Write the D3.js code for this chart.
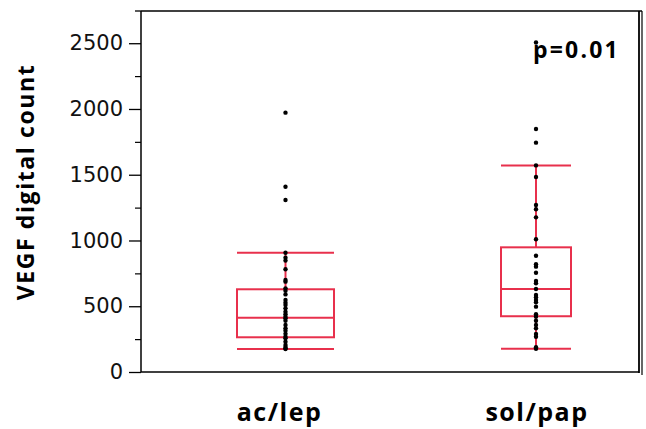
<!DOCTYPE html>
<html>
<head>
<meta charset="utf-8">
<script src="https://cdn.jsdelivr.net/npm/d3@7/dist/d3.min.js"></script>
<style>
  body { margin: 0; background: #fff; }
  svg { display: block; }
</style>
</head>
<body>
<div id="chart"></div>
<script>
// groups and raw points
var categories = ["ac/lep", "sol/pap"];

var acLep = [1972, 1409, 1308, 907, 869, 847, 781, 700, 687, 636, 618, 590,
             548, 527, 510, 484, 458, 440, 421, 408, 390, 357, 332, 314,
             290, 268, 256, 230, 205, 190, 180, 175];
var solPap = [2505, 1848, 1744, 1571, 1483, 1270, 1237, 1176, 1009, 884, 819,
              801, 755, 692, 674, 631, 586, 568, 548, 530, 497, 439, 421,
              390, 357, 332, 289, 268, 188, 177];

// box stats per group (lowWhisker, q1, median, q3, highWhisker)
var lowWhisker = [175, 177];
var q1 = [264, 424];
var median = [413, 631];
var q3 = [629, 948];
var highWhisker = [907, 1571];

var yTicks = [0, 500, 1000, 1500, 2000, 2500];
var yMinorTicks = [250, 750, 1250, 1750, 2250];
var pLabel = "p=0.01";

var svgWidth = 646, svgHeight = 429;
var plotLeft = 141, plotRight = 639, plotTop = 11, plotBottom = 372;
var red = "#e8304c";
var boldFont = 'Open Sans, Liberation Sans, sans-serif';

var svg = d3.select('#chart').append('svg')
    .attr('width', svgWidth)
    .attr('height', svgHeight);

var y = d3.scaleLinear().domain([0, 2745]).range([plotBottom, plotTop]);
var x = d3.scalePoint().domain(categories).range([285.5, 536]);
var boxW = d3.scaleOrdinal().domain(categories).range([97, 70]);

// frame
svg.append('line').attr('x1', plotLeft).attr('x2', plotRight + 3).attr('y1', plotTop).attr('y2', plotTop)
    .attr('stroke', '#000').attr('stroke-width', 1.5);
svg.append('line').attr('x1', plotRight).attr('x2', plotRight).attr('y1', plotTop).attr('y2', plotBottom + 1)
    .attr('stroke', '#000').attr('stroke-width', 1.8);
svg.append('line').attr('x1', plotRight + 3).attr('x2', plotRight + 3).attr('y1', plotTop).attr('y2', plotBottom + 3)
    .attr('stroke', '#000').attr('stroke-width', 1.2);
svg.append('line').attr('x1', plotLeft).attr('x2', plotRight).attr('y1', plotBottom).attr('y2', plotBottom)
    .attr('stroke', '#000').attr('stroke-width', 1.5);

// y axis
var yAxis = d3.axisLeft(y).tickValues(yTicks).tickFormat(d3.format('d'))
    .tickSize(12).tickPadding(6).tickSizeOuter(0);
var gy = svg.append('g').attr('transform', 'translate(' + plotLeft + ',0)').call(yAxis);
gy.select('.domain').attr('stroke', '#000').attr('stroke-width', 1.5)
    .attr('d', 'M0,' + plotTop + 'V' + plotBottom);
gy.selectAll('.tick line').attr('stroke', '#000').attr('stroke-width', 1.3);
gy.selectAll('.tick text').attr('font-family', 'DejaVu Sans').attr('font-size', 21).attr('fill', '#111');
var gm = svg.append('g').attr('transform', 'translate(' + plotLeft + ',0)')
    .call(d3.axisLeft(y).tickValues(yMinorTicks).tickSize(6).tickFormat(''));
gm.select('.domain').remove();
gm.selectAll('.tick line').attr('stroke', '#000').attr('stroke-width', 1.2);
svg.append('line').attr('x1', plotLeft - 6).attr('x2', plotLeft).attr('y1', plotTop).attr('y2', plotTop)
    .attr('stroke', '#000').attr('stroke-width', 1.3);

// y title
svg.append('text')
    .attr('transform', 'translate(34,182) rotate(-90)')
    .attr('text-anchor', 'middle')
    .attr('font-family', boldFont)
    .attr('font-weight', 'bold')
    .attr('font-size', 23)
    .attr('letter-spacing', 1.6)
    .text('VEGF digital count');

// x labels
svg.selectAll('.xlab').data(categories).enter().append('text')
    .attr('class', 'xlab')
    .attr('x', function (d, i) { return x(d) + (i === 0 ? -6 : 1); })
    .attr('y', 421)
    .attr('text-anchor', 'middle')
    .attr('font-family', boldFont)
    .attr('font-weight', 'bold')
    .attr('font-size', 25)
    .attr('letter-spacing', 1.5)
    .text(function (d) { return d; });

// p value
svg.append('text')
    .attr('x', 533).attr('y', 58)
    .attr('font-family', boldFont)
    .attr('font-weight', 'bold')
    .attr('font-size', 23)
    .attr('letter-spacing', 2.2)
    .text(pLabel);

// boxes
var boxes = svg.selectAll('.box').data(categories).enter().append('g').attr('class', 'box');
boxes.each(function (d, i) {
    var g = d3.select(this), cx = x(d), w = boxW(d);
    function ln(x1, x2, y1, y2) {
        g.append('line').attr('x1', x1).attr('x2', x2).attr('y1', y1).attr('y2', y2)
            .attr('stroke', red).attr('stroke-width', 2);
    }
    ln(cx, cx, y(highWhisker[i]), y(q3[i]));
    ln(cx, cx, y(q1[i]), y(lowWhisker[i]));
    ln(cx - w / 2, cx + w / 2, y(highWhisker[i]), y(highWhisker[i]));
    ln(cx - w / 2, cx + w / 2, y(lowWhisker[i]), y(lowWhisker[i]));
    g.append('rect')
        .attr('x', cx - w / 2).attr('width', w)
        .attr('y', y(q3[i])).attr('height', y(q1[i]) - y(q3[i]))
        .attr('fill', 'none').attr('stroke', red).attr('stroke-width', 2);
    ln(cx - w / 2, cx + w / 2, y(median[i]), y(median[i]));
});

// points (drawn last so the top dot stays visible above the p label)
var groups = [acLep, solPap];
groups.forEach(function (vals, i) {
    svg.selectAll('.pt' + i).data(vals).enter().append('circle')
        .attr('class', 'pt' + i)
        .attr('cx', x(categories[i]))
        .attr('cy', function (d) { return y(d); })
        .attr('r', 2.2)
        .attr('fill', '#000');
});
</script>
</body>
</html>
